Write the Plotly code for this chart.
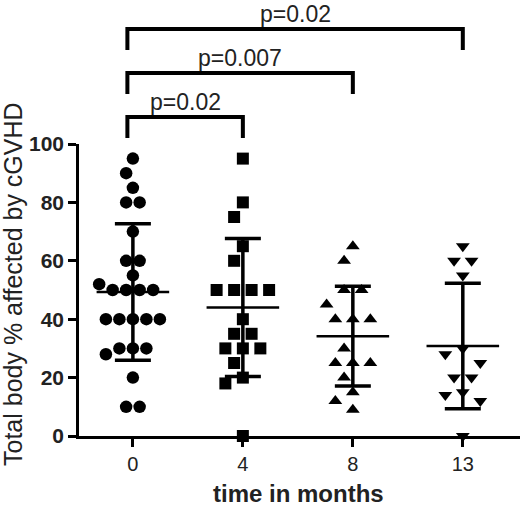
import math

import plotly.graph_objects as go

# values
months = ["0", "4", "8", "13"]
pct_month0 = [95, 90, 85, 80, 80, 70, 60, 60, 55, 52, 50, 50, 50, 50,
              40, 40, 40, 40, 40, 30, 30, 30, 28, 20, 10, 10]
pct_month4 = [95, 80, 75, 65, 60, 50, 50, 50, 50, 40, 35, 35, 30, 30, 30,
              25, 20, 18, 0]
pct_month8 = [65, 60, 50, 50, 45, 40, 40, 40, 30, 25, 25, 25, 20, 15, 12, 9]
pct_month13 = [65, 60, 60, 55, 30, 28, 25, 20, 20, 15, 14, 12, 0]
means = [49.3, 44.0, 34.2, 30.8]
sds = [23.4, 23.6, 17.1, 21.5]
comparisons = [(0, 1), (0, 2), (0, 3)]
p_labels = ["p=0.02", "p=0.007", "p=0.02"]

groups = [pct_month0, pct_month4, pct_month8, pct_month13]
symbols = ["circle", "square", "triangle-up", "triangle-down"]
sizes = [12.5, 12, 12, 12]
steps = [13.5, 17.5, 17.5, 17.5]  # px between swarm columns

FONT = "Liberation Sans, Arial, sans-serif"
X_PX = 110.0  # px per category on x
Y_PX = 2.92   # px per percent on y
V_GAP = 16.0  # px vertical clearance between markers
PLOT_H = 292


def swarm(values, step):
    # spread equal / close values sideways, GraphPad style
    counts = {}
    for v in values:
        counts[v] = counts.get(v, 0) + 1
    rows = sorted(counts.items(), key=lambda kv: (-kv[1], -kv[0]))
    placed = []
    offs = {}

    def free(x, y, pts):
        return all((x - px) ** 2 / step ** 2 + (y - py) ** 2 / V_GAP ** 2 >= 0.999
                   for px, py in pts)

    for v, n in rows:
        y = v * Y_PX
        sym = [(k - (n - 1) / 2) * step for k in range(n)]
        if all(free(x, y, placed) for x in sym):
            xs = sym
        else:
            xs = []
            for _ in range(n):
                k = 0
                while True:
                    cands = [0.0] if k == 0 else [-k * step / 2, k * step / 2]
                    hit = [c for c in cands
                           if free(c, y, placed + [(x, y) for x in xs])]
                    if hit:
                        xs.append(hit[0])
                        break
                    k += 1
        placed += [(x, y) for x in xs]
        offs[v] = list(xs)
    return [offs[v].pop(0) / X_PX for v in values]


fig = go.Figure()

for i, vals in enumerate(groups):
    jit = swarm(vals, steps[i])
    fig.add_trace(
        go.Scatter(
            x=[i + j for j in jit],
            y=vals,
            mode="markers",
            marker={"symbol": symbols[i], "size": sizes[i], "color": "black",
                    "line": {"width": 0}},
            cliponaxis=False,
            hoverinfo="skip",
        )
    )

# mean lines
mx, my = [], []
for i, m in enumerate(means):
    mx += [i - 0.33, i + 0.33, None]
    my += [m, m, None]
fig.add_trace(go.Scatter(x=mx, y=my, mode="lines",
                         line={"color": "black", "width": 2.5},
                         hoverinfo="skip"))

# SD whiskers
fig.add_trace(
    go.Scatter(
        x=list(range(len(means))),
        y=means,
        mode="markers",
        marker={"size": 1, "color": "rgba(0,0,0,0)"},
        error_y={"type": "data", "array": sds, "color": "black",
                 "thickness": 3.5, "width": 18},
        hoverinfo="skip",
    )
)

# significance brackets
for k, ((a, b), lab) in enumerate(zip(comparisons, p_labels)):
    top = 1 + (27 + k * 44) / PLOT_H
    bot = top - 21 / PLOT_H
    fig.add_shape(type="path",
                  path=f"M {a - 0.05},{bot} L {a - 0.05},{top} L {b},{top} L {b},{bot}",
                  xref="x", yref="paper",
                  line={"color": "black", "width": 4})
    fig.add_annotation(x=(a - 0.05 + b) / 2, y=top, xref="x", yref="paper",
                       text=lab, showarrow=False, yanchor="bottom", yshift=0,
                       font={"family": FONT, "size": 23, "color": "#222"})

fig.add_annotation(text="Total body % affected by cGVHD", textangle=-90,
                   xref="paper", yref="paper", x=-0.15, y=0.52,
                   xanchor="center", yanchor="middle", showarrow=False,
                   font={"family": FONT, "size": 25, "color": "#222"})
fig.add_annotation(text="<b>time in months</b>",
                   xref="paper", yref="paper", x=0.497, y=-0.198,
                   xanchor="center", yanchor="middle", showarrow=False,
                   font={"family": FONT, "size": 24, "color": "#222"})

fig.update_layout(
    width=520,
    height=506,
    margin={"l": 79, "r": 0, "t": 144, "b": 70},
    paper_bgcolor="white",
    plot_bgcolor="white",
    showlegend=False,
)
fig.update_xaxes(
    range=[-0.49, 3.52],
    tickvals=list(range(len(months))),
    ticktext=months,
    ticks="outside", ticklen=8, tickwidth=2.5, tickcolor="black",
    showline=True, linecolor="black", linewidth=2.5,
    showgrid=False, zeroline=False,
    tickfont={"family": FONT, "size": 20, "color": "#222"},
)
fig.update_yaxes(
    range=[0, 100],
    tickvals=[0, 20, 40, 60, 80, 100],
    ticks="outside", ticklen=8, tickwidth=2.5, tickcolor="black",
    showline=True, linecolor="black", linewidth=2.5,
    showgrid=False, zeroline=False,
    tickfont={"family": FONT, "size": 21, "color": "#222", "weight": "bold"},
)

# the page's default body margin would push the 520x506 figure off the window
fig.write_html("out.html", config={"displayModeBar": False},
               post_script="document.body.style.margin='0px';")
